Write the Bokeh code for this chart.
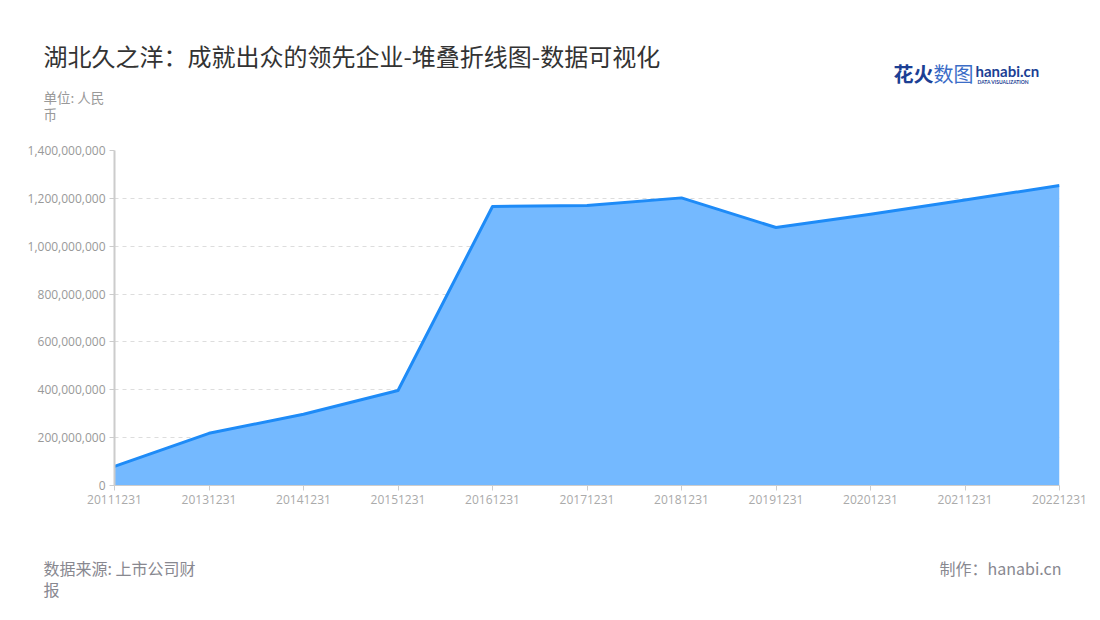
from bokeh.plotting import figure
from bokeh.layouts import column
from bokeh.models import Range1d, NumeralTickFormatter, FixedTicker
from bokeh.core.properties import value
from bokeh.embed import file_html
from bokeh.resources import INLINE

categories = ["20111231", "20131231", "20141231", "20151231", "20161231", "20171231",
              "20181231", "20191231", "20201231", "20211231", "20221231"]
values = [80e6, 218e6, 298e6, 397e6, 1166e6, 1170e6, 1202e6, 1078e6, 1134e6, 1193e6, 1254e6]
y_ticks = [0, 200e6, 400e6, 600e6, 800e6, 1000e6, 1200e6, 1400e6]

W = 1100
CJK = "Noto Sans CJK SC"
HEAD_H, MAIN_H, FOOT_H = 130, 400, 90


def blank(height, top):
    f = figure(width=W, height=height, output_backend="svg", toolbar_location=None,
               x_range=Range1d(0, W), y_range=Range1d(top + height, top),
               min_border=0, min_border_left=0, min_border_right=0,
               min_border_top=0, min_border_bottom=0)
    f.axis.visible = False
    f.grid.grid_line_color = None
    f.outline_line_color = None
    return f


def txt(f, s, x, y, size, color, align="left", font=CJK, style="normal"):
    f.text(x=[x], y=[y], text=[s], text_font=value(font), text_font_size=value(size),
           text_color=color, text_align=align, text_baseline="middle",
           text_font_style=style)


# header
head = blank(HEAD_H, 0)
txt(head, "湖北久之洋：成就出众的领先企业-堆叠折线图-数据可视化", 43, 55, "24px", "#333333")
txt(head, "单位: 人民", 43, 96, "13.5px", "#999999")
txt(head, "币", 43, 113, "13.5px", "#999999")
txt(head, "花火", 893, 73, "20px", "#1c3f94", style="bold")
txt(head, "数图", 933, 73, "20px", "#3b6dc7")
txt(head, "hanabi.cn", 975, 70, "15px", "#1c3f94", font="Lato", style="bold")
txt(head, "DATA VISUALIZATION", 977, 81, "5px", "#1c3f94", font="Lato", style="bold")

# main chart
xs = list(range(len(categories)))
p = figure(width=W, height=MAIN_H, output_backend="svg", toolbar_location=None,
           x_range=Range1d(0, len(categories) - 1), y_range=Range1d(0, 1400e6),
           min_border_left=114, min_border_right=W - 1059,
           min_border_top=150 - HEAD_H, min_border_bottom=HEAD_H + MAIN_H - 485)
p.outline_line_color = None

p.varea(x=xs, y1=[0] * len(xs), y2=values, fill_color="#74b9ff", fill_alpha=1.0)
p.line(x=xs, y=values, line_color="#1e8bf7", line_width=3, line_join="round")

p.xgrid.grid_line_color = None
p.ygrid.grid_line_color = "#dddddd"
p.ygrid.grid_line_dash = "4 4"
p.ygrid.grid_line_width = 1

p.yaxis.ticker = FixedTicker(ticks=y_ticks)
p.yaxis.formatter = NumeralTickFormatter(format="0,0")
p.yaxis.axis_line_color = "#cccccc"
p.yaxis.axis_line_width = 2
p.yaxis.major_tick_line_color = "#cccccc"
p.yaxis.major_tick_out = 5
p.yaxis.major_tick_in = 0
p.yaxis.minor_tick_line_color = None
p.yaxis.major_label_text_color = "#999999"
p.yaxis.major_label_text_font = "Open Sans"
p.yaxis.major_label_text_font_size = "12px"
p.yaxis.major_label_standoff = 4

p.xaxis.ticker = FixedTicker(ticks=xs)
p.xaxis.major_label_overrides = {i: c for i, c in zip(xs, categories)}
p.xaxis.axis_line_color = "#cccccc"
p.xaxis.major_tick_line_color = "#cccccc"
p.xaxis.major_tick_out = 5
p.xaxis.major_tick_in = 0
p.xaxis.minor_tick_line_color = None
p.xaxis.major_label_text_color = "#aaaaaa"
p.xaxis.major_label_text_font = "Open Sans"
p.xaxis.major_label_text_font_size = "12px"
p.xaxis.major_label_standoff = 4

# footer
top = HEAD_H + MAIN_H
foot = blank(FOOT_H, top)
txt(foot, "数据来源: 上市公司财", 43, 567, "16px", "#888890")
txt(foot, "报", 43, 588, "16px", "#888890")
txt(foot, "制作：hanabi.cn", 1061, 567, "16px", "#888890", align="right")

layout = column(column(head), p, column(foot), spacing=0)
open("out.html", "w").write(file_html(layout, INLINE))
